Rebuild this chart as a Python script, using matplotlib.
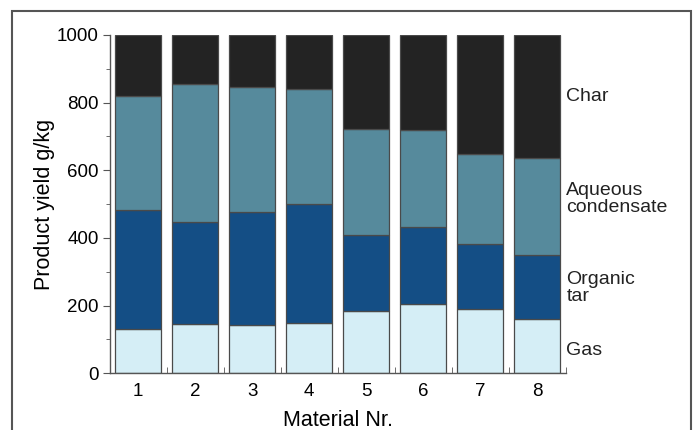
import matplotlib.pyplot as plt
import numpy as np
from matplotlib.patches import Rectangle
from matplotlib.ticker import FixedLocator, MultipleLocator

plt.rcParams["font.family"] = ["Liberation Sans", "DejaVu Sans"]

materials = [1, 2, 3, 4, 5, 6, 7, 8]
gas = np.array([130, 146, 143, 148, 184, 206, 189, 161])
tar_top = np.array([483, 447, 477, 500, 409, 433, 383, 348])
aqueous_top = np.array([820, 854, 846, 840, 723, 718, 647, 637])
total = np.array([1000, 1000, 1000, 1000, 1000, 1000, 1000, 1000])

tar = tar_top - gas
aqueous = aqueous_top - tar_top
char = total - aqueous_top

fractions = [
    ("Gas", gas, "#d5eef6"),
    ("Organic\ntar", tar, "#144e85"),
    ("Aqueous\ncondensate", aqueous, "#568a9c"),
    ("Char", char, "#232323"),
]
label_y = [68, 252, 515, 817]

fig = plt.figure(figsize=(6.95, 4.3), dpi=100)
ax = fig.add_axes([0.158, 0.132, 0.656, 0.787])

bottom = np.zeros(len(materials))
for (name, vals, color), ly in zip(fractions, label_y):
    ax.bar(materials, vals, bottom=bottom, width=0.81, color=color,
           edgecolor="#4a4a4a", linewidth=0.9)
    bottom = bottom + vals
    ax.text(8.51, ly, name, fontsize=14, va="center", ha="left",
            linespacing=0.95, color="#222222")

ax.set_xlim(0.5, 8.5)
ax.set_ylim(0, 1000)
ax.spines["top"].set_visible(False)
ax.spines["right"].set_visible(False)
for s in ("left", "bottom"):
    ax.spines[s].set_color("#555555")
    ax.spines[s].set_linewidth(1.0)

ax.set_xticks(materials)
ax.xaxis.set_minor_locator(FixedLocator(np.arange(1.5, 9.0, 1.0)))
ax.tick_params(axis="x", which="major", length=0, labelsize=13.5, pad=7)
ax.tick_params(axis="x", which="minor", direction="in", length=4,
               color="#555555")
ax.set_yticks([0, 200, 400, 600, 800, 1000])
ax.yaxis.set_minor_locator(MultipleLocator(100))
ax.tick_params(axis="y", which="major", direction="out", length=5,
               labelsize=13.5, pad=3, color="#555555")
ax.tick_params(axis="y", which="minor", direction="out", length=3,
               color="#555555")

ax.set_xlabel("Material Nr.", fontsize=15.5)
ax.set_ylabel("Product yield g/kg", fontsize=15.5)
ax.yaxis.set_label_coords(-0.12, 0.5)
ax.xaxis.set_label_coords(0.5, -0.108)

fig.patches.append(Rectangle((12 / 695, -0.05), 679 / 695, 1 - 11 / 430 + 0.05,
                             transform=fig.transFigure, fill=False,
                             edgecolor="#555555", linewidth=1.5))

fig.savefig("out.png", dpi=100)
